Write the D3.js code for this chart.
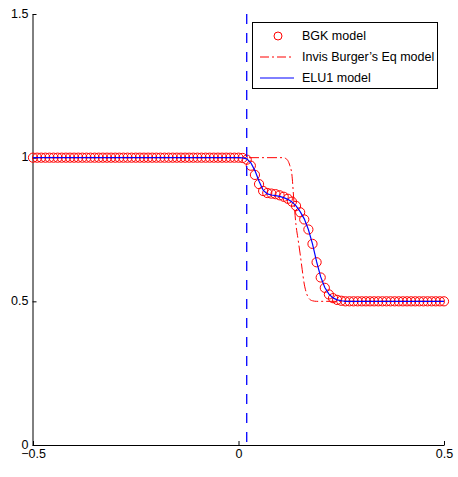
<!DOCTYPE html>
<html>
<head>
<meta charset="utf-8">
<script src="https://cdn.jsdelivr.net/npm/d3@7"></script>
<style>
  body { margin: 0; background: #fff; }
  svg { display: block; font-family: "Liberation Sans", Arial, sans-serif; }
</style>
</head>
<body>
<svg></svg>
<script>
const xTicks = [-0.5, 0, 0.5];
const xTickLabels = ["\u22120.5", "0", "0.5"];
const yTicks = [0, 0.5, 1, 1.5];
const yTickLabels = ["0", "0.5", "1", "1.5"];

// sample grid of the BGK / ELU1 runs, -0.5 .. 0.5
const gridX = d3.range(101).map((i) => -0.5 + i / 100);

const bgkY = [
  1, 1, 1, 1, 1, 1, 1, 1, 1, 1,
  1, 1, 1, 1, 1, 1, 1, 1, 1, 1,
  1, 1, 1, 1, 1, 1, 1, 1, 1, 1,
  1, 1, 1, 1, 1, 1, 1, 1, 1, 1,
  1, 1, 1, 1, 1, 1, 1, 1, 1, 1,
  1.0, 0.999, 0.993, 0.972, 0.94, 0.908, 0.884, 0.877, 0.875, 0.873,
  0.869, 0.864, 0.857, 0.847, 0.832, 0.81, 0.785, 0.75, 0.7, 0.636,
  0.583, 0.547, 0.524, 0.511, 0.505, 0.502, 0.5, 0.5, 0.5, 0.5,
  0.5, 0.5, 0.5, 0.5, 0.5, 0.5, 0.5, 0.5, 0.5, 0.5,
  0.5, 0.5, 0.5, 0.5, 0.5, 0.5, 0.5, 0.5, 0.5, 0.5,
  0.5,
];

const elu1Y = [
  1, 1, 1, 1, 1, 1, 1, 1, 1, 1,
  1, 1, 1, 1, 1, 1, 1, 1, 1, 1,
  1, 1, 1, 1, 1, 1, 1, 1, 1, 1,
  1, 1, 1, 1, 1, 1, 1, 1, 1, 1,
  1, 1, 1, 1, 1, 1, 1, 1, 1, 1,
  1.0, 0.999, 0.996, 0.982, 0.955, 0.918, 0.887, 0.874, 0.87, 0.868,
  0.865, 0.861, 0.855, 0.846, 0.832, 0.812, 0.787, 0.75, 0.7, 0.638,
  0.585, 0.548, 0.525, 0.512, 0.505, 0.502, 0.5, 0.5, 0.5, 0.5,
  0.5, 0.5, 0.5, 0.5, 0.5, 0.5, 0.5, 0.5, 0.5, 0.5,
  0.5, 0.5, 0.5, 0.5, 0.5, 0.5, 0.5, 0.5, 0.5, 0.5,
  0.5,
];

const burgersX = [-0.5, 0.11, 0.115, 0.12, 0.125, 0.13, 0.135, 0.14, 0.145, 0.15, 0.155, 0.16, 0.165, 0.17, 0.175, 0.18, 0.19, 0.5];
const burgersY = [1, 1, 0.997, 0.99, 0.972, 0.94, 0.845, 0.765, 0.715, 0.665, 0.61, 0.56, 0.53, 0.513, 0.505, 0.502, 0.5, 0.5];

const markerX = 0.02;

const legendItems = ["BGK model", "Invis Burger\u2019s Eq model", "ELU1 model"];

const w = 458;
const h = 477;

const svg = d3.select("svg").attr("width", w).attr("height", h);

const xScale = d3.scaleLinear().domain([-0.5, 0.5]).range([33, 444]);
const yScale = d3.scaleLinear().domain([0, 1.5]).range([445, 14]);

const bgk = gridX.map((x, i) => ({ x, y: bgkY[i] }));
const elu1 = gridX.map((x, i) => ({ x, y: elu1Y[i] }));
const burgers = burgersX.map((x, i) => ({ x, y: burgersY[i] }));

const line = d3
  .line()
  .x((d) => xScale(d.x))
  .y((d) => yScale(d.y));

// axes, matlab style: ticks inside, only left + bottom
const xAxis = svg
  .append("g")
  .attr("transform", `translate(0,${yScale(0)})`)
  .call(
    d3
      .axisBottom(xScale)
      .tickValues(xTicks)
      .tickFormat((d, i) => xTickLabels[i])
      .tickSizeInner(-4)
      .tickSizeOuter(0)
      .tickPadding(4.5),
  );

const yAxis = svg
  .append("g")
  .attr("transform", `translate(${xScale(-0.5) - 0.5},0)`)
  .call(
    d3
      .axisLeft(yScale)
      .tickValues(yTicks)
      .tickFormat((d, i) => yTickLabels[i])
      .tickSizeInner(-4)
      .tickSizeOuter(0)
      .tickPadding(4),
  );

yAxis.selectAll("text").attr("dy", "0.26em");

[xAxis, yAxis].forEach((g) => {
  g.selectAll("text").attr("font-size", 12.5).attr("font-family", "Liberation Sans, Arial, sans-serif").attr("fill", "#000");
  g.select(".domain").attr("stroke", "#000");
  g.selectAll(".tick line").attr("stroke", "#000");
});

// BGK circles
svg
  .append("g")
  .selectAll("circle")
  .data(bgk)
  .enter()
  .append("circle")
  .attr("cx", (d) => xScale(d.x))
  .attr("cy", (d) => yScale(d.y))
  .attr("r", 4.6)
  .attr("fill", "none")
  .attr("stroke", "#ff0000")
  .attr("stroke-width", 1);

svg
  .append("path")
  .datum(burgers)
  .attr("d", line.curve(d3.curveMonotoneX))
  .attr("fill", "none")
  .attr("stroke", "#ff0000")
  .attr("stroke-width", 1)
  .attr("stroke-dasharray", "10,3,2,3");

svg
  .append("path")
  .datum(elu1)
  .attr("d", line.curve(d3.curveLinear))
  .attr("fill", "none")
  .attr("stroke", "#0000ff")
  .attr("stroke-width", 1.2);

svg
  .append("line")
  .attr("x1", xScale(markerX))
  .attr("x2", xScale(markerX))
  .attr("y1", yScale(1.5))
  .attr("y2", yScale(0))
  .attr("stroke", "#0000ff")
  .attr("stroke-width", 1.3)
  .attr("stroke-dasharray", "10,9");

// legend
const legend = svg.append("g");

legend
  .append("rect")
  .attr("x", 252.5)
  .attr("y", 22.5)
  .attr("width", 185)
  .attr("height", 66)
  .attr("fill", "#fff")
  .attr("stroke", "#000")
  .attr("stroke-width", 1);

const rowY = [36, 57, 78];

legend
  .append("circle")
  .attr("cx", 278)
  .attr("cy", rowY[0])
  .attr("r", 4)
  .attr("fill", "none")
  .attr("stroke", "#ff0000");

legend
  .append("line")
  .attr("x1", 260)
  .attr("x2", 294)
  .attr("y1", rowY[1])
  .attr("y2", rowY[1])
  .attr("stroke", "#ff0000")
  .attr("stroke-dasharray", "9,3,2,3");

legend
  .append("line")
  .attr("x1", 260)
  .attr("x2", 294)
  .attr("y1", rowY[2])
  .attr("y2", rowY[2])
  .attr("stroke", "#0000ff");

legend
  .selectAll("text")
  .data(legendItems)
  .enter()
  .append("text")
  .attr("x", 302)
  .attr("y", (d, i) => rowY[i])
  .attr("dy", "0.35em")
  .attr("font-size", 12.5)
  .attr("fill", "#000")
  .text((d) => d);
</script>
</body>
</html>
